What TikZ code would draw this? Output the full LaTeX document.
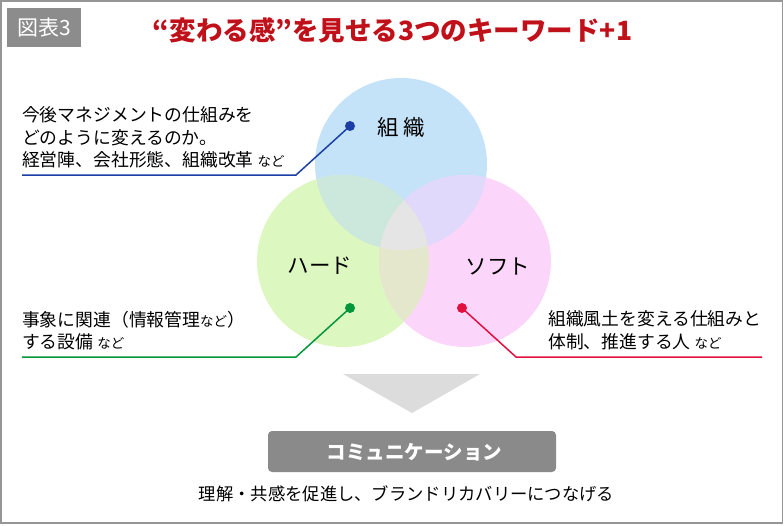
\documentclass[tikz,border=0pt]{standalone}
\usepackage{fontspec}
\setmainfont{Noto Sans CJK JP}
\usepackage{tikz}

\definecolor{framegray}{RGB}{150,150,150}
\definecolor{tagbg}{RGB}{140,140,140}
\definecolor{titlered}{RGB}{192,16,26}
\definecolor{vblue}{RGB}{197,227,248}
\definecolor{vgreen}{RGB}{221,247,192}
\definecolor{vpink}{RGB}{252,213,250}
\definecolor{vbg}{RGB}{204,231,220}
\definecolor{vbp}{RGB}{225,217,251}
\definecolor{vgp}{RGB}{229,231,204}
\definecolor{vmid}{RGB}{229,229,229}
\definecolor{leadblue}{RGB}{27,63,166}
\definecolor{leadgreen}{RGB}{0,150,60}
\definecolor{leadred}{RGB}{226,16,63}
\definecolor{trigray}{RGB}{220,220,220}
\definecolor{commgray}{RGB}{138,138,138}

\newcommand\nado{{\fontsize{13.5}{13.5}\selectfont など}}

\begin{document}
\begin{tikzpicture}[x=1pt, y=-1pt, every node/.style={inner sep=0pt}
        , txt/.style={align=left, anchor=west, font=\fontsize{17.8}{22.7}\selectfont}
        , venn/.style={font=\fontsize{21.5}{21.5}\selectfont}
        , dot/.style={circle, inner sep=0pt, minimum size=10pt}
        , lead/.style={line width=1.5pt} ]

            \useasboundingbox (0,0) rectangle (784,525);
            \draw[line width=1.5pt, framegray] (1,1) rectangle (782.5,523);

            \node[fill=tagbg, text=white, minimum width=74pt, minimum height=39pt
            , font=\fontsize{21}{21}\selectfont] (tag) at (44,27.5) {図表3};
            \node[text=titlered, font=\bfseries\fontsize{26.5}{26.5}\selectfont] (title)
                at (392.5,30) {“変わる感”を見せる3つのキーワード+1};

            \coordinate (sosiki) at (401,164);
            \coordinate (hard) at (343,261);
            \coordinate (soft) at (465,261);

            \foreach \p/\c in {sosiki/vblue,hard/vgreen,soft/vpink}
                \fill[\c] (\p) circle (86pt);

            \foreach \a/\b/\c in {sosiki/hard/vbg,sosiki/soft/vbp,hard/soft/vgp}
            {
                \begin{scope}
                    \clip (\a) circle (86pt);
                    \fill[\c] (\b) circle (86pt);
                \end{scope}
            }
            \begin{scope}
                \clip (sosiki) circle (86pt);
                \clip (hard) circle (86pt);
                \fill[vmid] (soft) circle (86pt);
            \end{scope}

            \node[venn] (lsosiki) at (401,127) {組 織};
            \node[venn] (lhard) at (320,266) {ハード};
            \node[venn] (lsoft) at (498,266) {ソフト};

            \foreach \n/\c/\d/\k/\e in {blue/leadblue/{350,126}/{296,175}/{22,175},
                green/leadgreen/{350,308}/{296,357}/{22,357},
                red/leadred/{462,308}/{516,357}/{762,357}}
            {
                \node[dot, fill=\c] (d\n) at (\d) {};
                \coordinate (k\n) at (\k);
                \coordinate (e\n) at (\e);
                \draw[lead, \c] (d\n.center) -- (k\n) -- (e\n);
            }

            \node[txt] (tblue) at (22,137.5)
                {今後マネジメントの仕組みを\\どのように変えるのか。\\経営陣、会社形態、組織改革 \nado};
            \node[txt] (tgreen) at (22,330.5)
                {事象に関連（情報管理{\fontsize{13.5}{13.5}\selectfont など}）\\する設備 \nado};
            \node[txt] (tred) at (548,330.5)
                {組織風土を変える仕組みと\\体制、推進する人 \nado};

            \fill[trigray] (343,374) -- (480,374) -- (412,413) -- cycle;

            \node[fill=commgray, rounded corners=4pt, minimum width=288pt, minimum height=41pt]
                (comm) at (412,451.5) {};
            \node[text=white, font=\bfseries\fontsize{19.5}{19.5}\selectfont]
                (commtxt) at (414.5,452) {コミュニケーション};
            \node[font=\fontsize{17.3}{17.3}\selectfont] (goal) at (406.5,494)
                {理解・共感を促進し、ブランドリカバリーにつなげる};

        \end{tikzpicture}
\end{document}
